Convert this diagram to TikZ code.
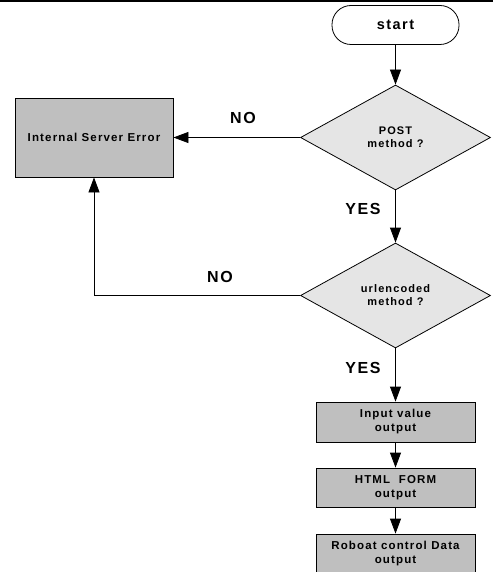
\documentclass[tikz,border=0pt]{standalone}
\usepackage{fontspec}
\setmainfont{Liberation Sans}[LetterSpace=10]
\usetikzlibrary{shapes.geometric,arrows.meta}

\tikzset{
  arr/.style={draw,-{Triangle[length=15pt,width=11pt]}},
  procbox/.style={draw,fill=gray!50,minimum width=159pt,minimum height=40pt,inner sep=1pt,align=center,font=\bfseries\fontsize{11.5}{14}\selectfont},
  decision/.style={diamond,draw,fill=gray!20,minimum width=190pt,minimum height=105pt,inner sep=0pt,align=center,font=\bfseries\fontsize{11}{13}\selectfont},
  answer/.style={font=\bfseries\fontsize{16}{18}\selectfont}
}

\begin{document}
\begin{tikzpicture}[x=1pt,y=-1pt,line width=0.8pt]

      \useasboundingbox (0,0) rectangle (493,572);
      \draw[line width=2pt] (0,1) -- (493,1);

      \node (start) at (395.5,25) [draw,rounded corners=19pt,minimum width=127pt,minimum height=39pt,font=\bfseries\fontsize{14.5}{16}\selectfont] {start};
      \node (post) at (395.5,137.5) [decision] {POST\\method ?};
      \node (ise) at (94,137.5) [procbox,minimum width=158pt,minimum height=79pt] {Internal Server Error};
      \node (url) at (395.5,295.5) [decision] {urlencoded\\method ?};
      \node (input) at (395.5,422) [procbox] {Input value\\output};
      \node (html) at (395.5,487.5) [procbox,minimum height=39pt] {HTML\ \ FORM\\output};
      \node (robo) at (395.5,554) [procbox] {Roboat control Data\\output};

      \node (no1) at (243,118) [answer] {NO};
      \node (yes1) at (363,209) [answer] {YES};
      \node (no2) at (220,277) [answer] {NO};
      \node (yes2) at (363,368) [answer] {YES};

      \path[arr] (start) -- (post);
      \path[arr] (post) -- (ise);
      \path[arr] (post) -- (url);
      \path[arr] (url.west) -| (ise.south);
      \path[arr] (url) -- (input);
      \path[arr] (input) -- (html);
      \path[arr] (html) -- (robo);

    \end{tikzpicture}
\end{document}
